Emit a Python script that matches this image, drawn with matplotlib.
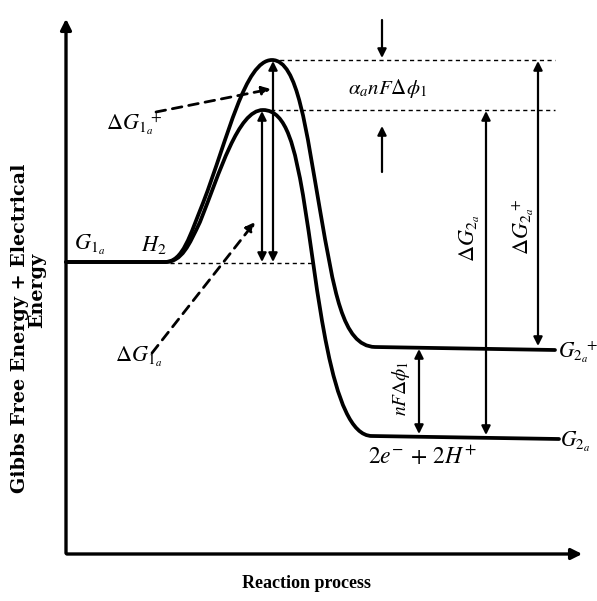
import matplotlib
matplotlib.use('Agg')
import matplotlib.pyplot as plt
from matplotlib.path import Path
from matplotlib.patches import PathPatch

plt.rcParams['mathtext.fontset'] = 'stix'

# schematic coordinates in picture pixels (y grows downwards)
x_start = 165          # where the reaction leaves the G1 plateau
x_end = 556            # right end of the product levels
g1_level = 262
peak_plus = 60         # transition state with electrical energy
peak = 110             # transition state without
g2_plus_level = [347, 350]
g2_level = [436, 439]

# bezier control points of the two energy profiles
upper_curve = [(x_start, g1_level),
               (183, 262), (190, 235), (203, 203),
               (228, 138), (245, 60), (272, peak_plus),
               (298, 60), (306, 130), (320, 210),
               (334, 290), (342, 346), (375, g2_plus_level[0])]
lower_curve = [(x_start, g1_level),
               (182, 262), (189, 245), (200, 222),
               (220, 172), (238, peak), (263, peak),
               (287, 110), (295, 150), (303, 195),
               (318, 285), (330, 436), (372, g2_level[0])]

fig = plt.figure(figsize=(5.97, 6.01), dpi=100)
ax = fig.add_axes([0, 0, 1, 1])
ax.set_xlim(0, 597)
ax.set_ylim(601, 0)
ax.axis('off')

black = 'black'


def profile(points, level_end, x_stop):
    verts = [(66, points[0][1])] + list(points) + [(x_stop, level_end)]
    codes = [Path.MOVETO, Path.LINETO] + [Path.CURVE4] * (len(points) - 1) + [Path.LINETO]
    ax.add_patch(PathPatch(Path(verts, codes), fill=False, lw=2.7,
                           edgecolor=black, capstyle='round', joinstyle='round'))


profile(upper_curve, g2_plus_level[1], x_end - 1)
profile(lower_curve, g2_level[1], x_end + 3)

# axes with arrow heads
ax.annotate('', xy=(66, 16), xytext=(66, 556),
            arrowprops=dict(arrowstyle='-|>', lw=2.4, color=black, mutation_scale=16))
ax.annotate('', xy=(585, 554), xytext=(64, 554),
            arrowprops=dict(arrowstyle='-|>', lw=2.4, color=black, mutation_scale=16))

# dotted reference levels
ax.plot([272, 555], [peak_plus, peak_plus], color=black, lw=1, ls=(0, (3, 2.5)))
ax.plot([263, 555], [peak, peak], color=black, lw=1, ls=(0, (3, 2.5)))
ax.plot([x_start + 5, 313], [g1_level + 1, g1_level + 1], color=black, lw=1, ls=(0, (3, 2.5)))


def varrow(x, y0, y1, style='<|-|>', lw=1.6):
    ax.annotate('', xy=(x, y1), xytext=(x, y0),
                arrowprops=dict(arrowstyle=style, lw=lw, color=black,
                                mutation_scale=13, shrinkA=0, shrinkB=0))


varrow(262, g1_level, peak + 1)
varrow(273, g1_level, peak_plus + 1)
varrow(486, g2_level[0] - 1, peak + 1)
varrow(538, g2_plus_level[0] - 1, peak_plus + 1)
varrow(419, g2_level[0] - 2, g2_plus_level[0] + 2)
varrow(382, 20, 58, style='-|>')
varrow(382, 172, 126, style='-|>')

# dashed pointers
ax.annotate('', xy=(271, 89), xytext=(156, 112),
            arrowprops=dict(arrowstyle='-|>', lw=2, ls=(0, (3.5, 2.5)), color=black,
                            mutation_scale=13, shrinkA=0, shrinkB=0))
ax.annotate('', xy=(255, 222), xytext=(152, 353),
            arrowprops=dict(arrowstyle='-|>', lw=2, ls=(0, (3.5, 2.5)), color=black,
                            mutation_scale=13, shrinkA=0, shrinkB=0))

# labels
fs = 16
ax.text(74, 245, r'$G_{1_a}$', fontsize=fs, ha='left', va='center')
ax.text(141, 245, r'$H_2$', fontsize=fs, ha='left', va='center')
ax.text(106, 124, r'$\Delta G_{1_a}\!{}^{+}$', fontsize=fs, ha='left', va='center')
ax.text(115, 357, r'$\Delta G_{1_a}$', fontsize=fs, ha='left', va='center')
ax.text(348, 88, r'$\alpha_a nF\Delta\phi_1$', fontsize=15, ha='left', va='center')
ax.text(470, 238, r'$\Delta G_{2_a}$', fontsize=fs, ha='center', va='center', rotation=90)
ax.text(523, 227, r'$\Delta G_{2_a}\!{}^{+}$', fontsize=fs, ha='center', va='center', rotation=90)
ax.text(401, 388, r'$nF\Delta\phi_1$', fontsize=14, ha='center', va='center', rotation=90)
ax.text(558, 352, r'$G_{2_a}\!{}^{+}$', fontsize=15.5, ha='left', va='center')
ax.text(560, 442, r'$G_{2_a}$', fontsize=15.5, ha='left', va='center')
ax.text(368, 457, r'$2e^{-}\,+\,2H^{+}$', fontsize=17, ha='left', va='center')

ax.text(20, 328, 'Gibbs Free Energy + Electrical', fontsize=13.8, fontweight='bold',
        family='DejaVu Serif', rotation=90, ha='center', va='center')
ax.text(37, 290, 'Energy', fontsize=13.8, fontweight='bold',
        family='DejaVu Serif', rotation=90, ha='center', va='center')
ax.text(307, 584, 'Reaction process', fontsize=13, fontweight='bold',
        family='Liberation Serif', ha='center', va='center')

fig.savefig('out.png', dpi=100)
